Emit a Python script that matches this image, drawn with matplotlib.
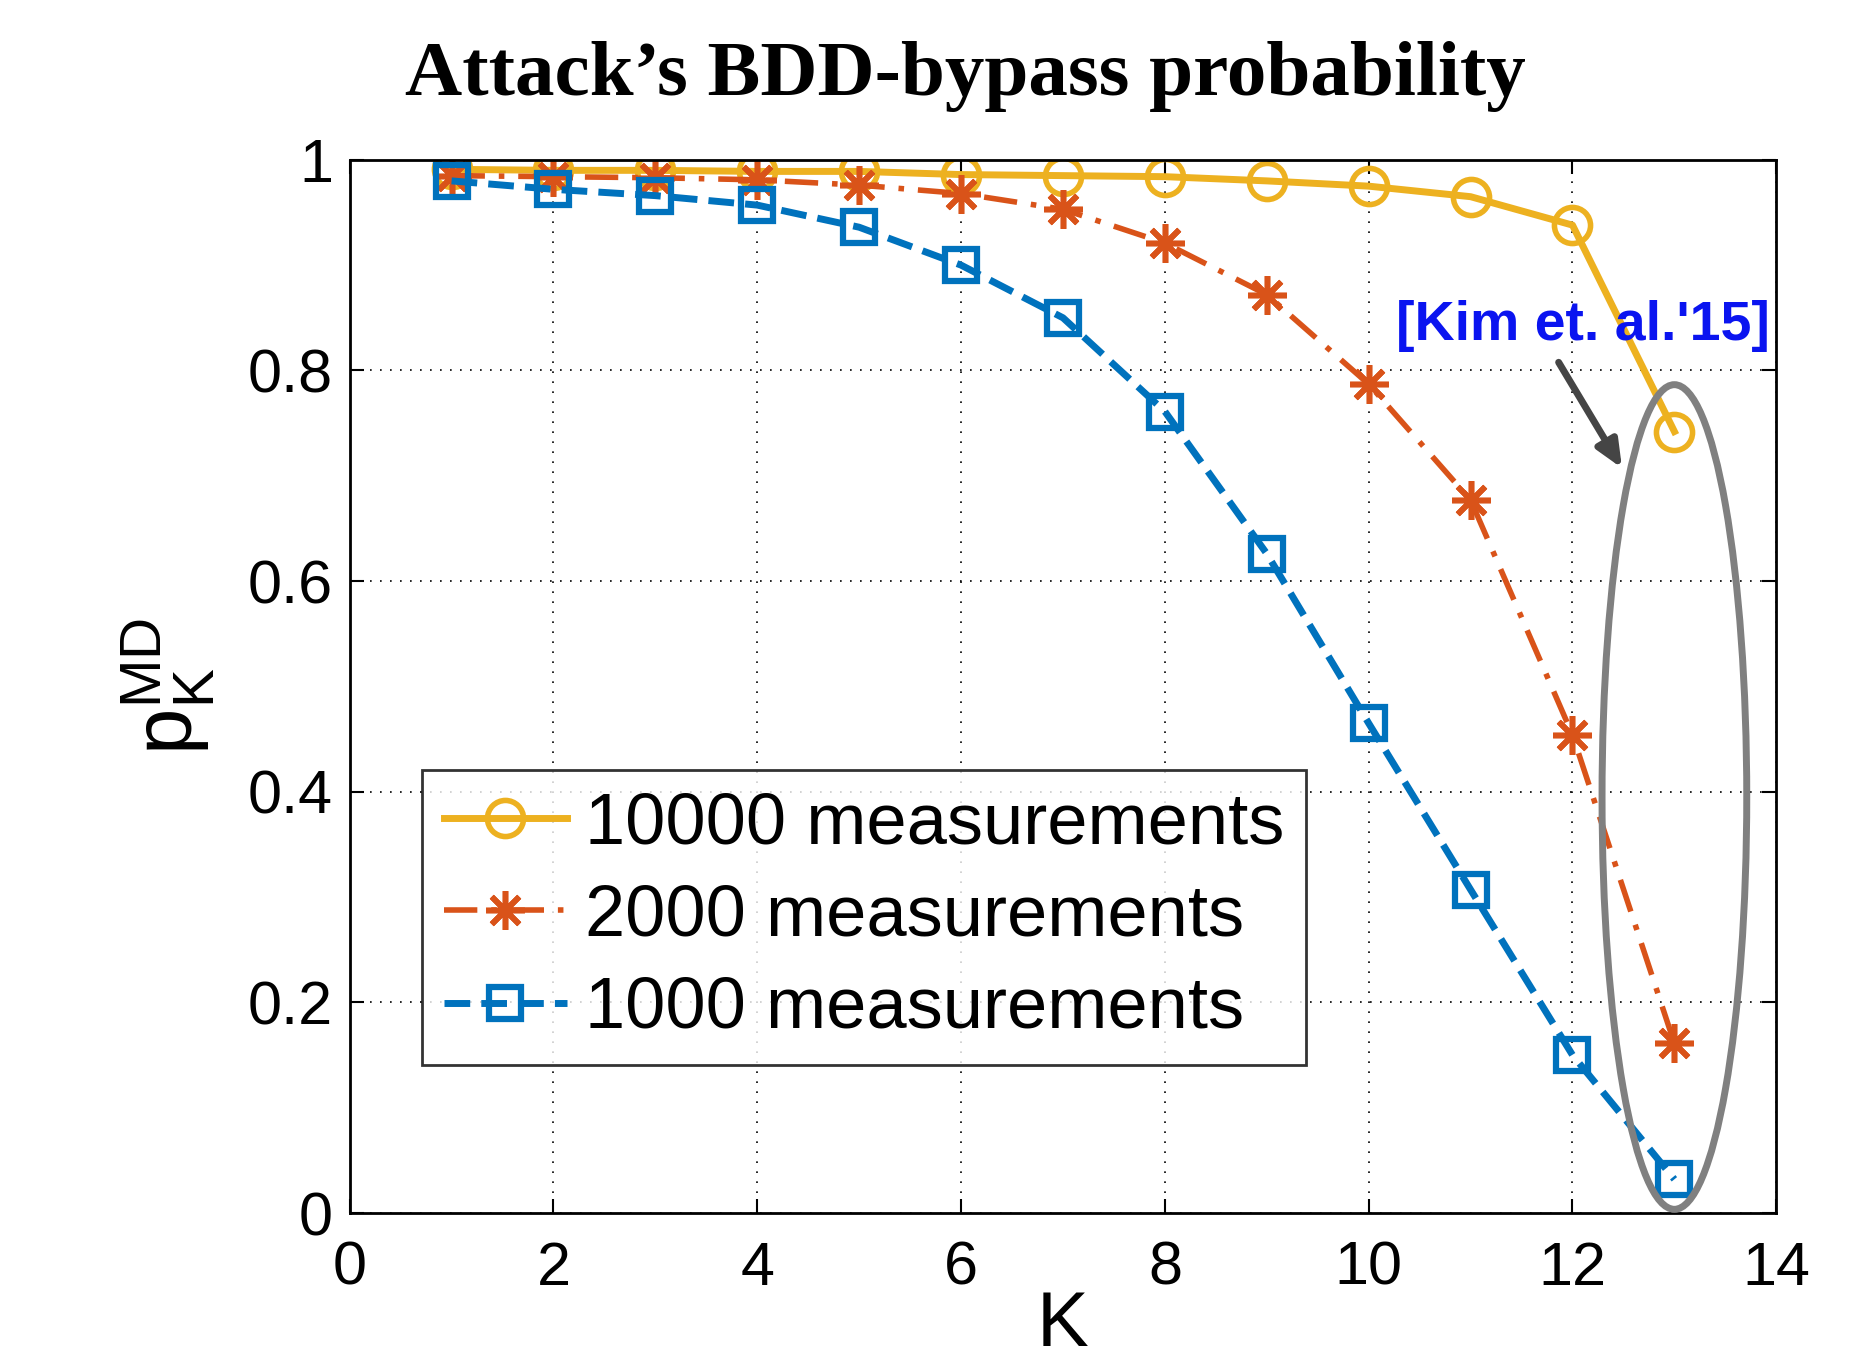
import numpy as np
import matplotlib
matplotlib.use("Agg")
import matplotlib.pyplot as plt
from matplotlib.patches import Ellipse

K = [1, 2, 3, 4, 5, 6, 7, 8, 9, 10, 11, 12, 13]
p_10000 = [0.991, 0.990, 0.990, 0.989, 0.989, 0.986, 0.985, 0.984, 0.980, 0.975, 0.965, 0.938, 0.742]
p_2000 = [0.985, 0.984, 0.983, 0.981, 0.976, 0.968, 0.953, 0.921, 0.872, 0.787, 0.677, 0.454, 0.161]
p_1000 = [0.980, 0.972, 0.966, 0.957, 0.936, 0.900, 0.850, 0.761, 0.626, 0.465, 0.307, 0.150, 0.032]
labels = ["10000 measurements", "2000 measurements", "1000 measurements"]

plt.rcParams['font.family'] = ['Liberation Sans', 'DejaVu Sans']
plt.rcParams['mathtext.fontset'] = 'custom'
plt.rcParams['mathtext.rm'] = 'Liberation Sans'
plt.rcParams['mathtext.it'] = 'Liberation Sans'
plt.rcParams['mathtext.sf'] = 'Liberation Sans'

yellow = '#EDB120'
red = '#D95319'
blue = '#0072BD'

fig = plt.figure(figsize=(18.6, 13.66), dpi=100)
ax = fig.add_axes([0.188, 0.112, 0.767, 0.771])

ax.plot(K, p_10000, '-', color=yellow, lw=5, marker='o', ms=26, mfc='none', mew=4, label=labels[0])
ax.plot(K, p_2000, color=red, lw=4, ls=(0, (6, 2.5, 1, 2.5)), marker=(8, 2, 0), ms=28,
        mfc=red, mec=red, mew=4, label=labels[1])
ax.plot(K, p_1000, '--', color=blue, lw=5, marker='s', ms=23, mfc='none', mew=4.5, label=labels[2])

ax.set_xlim(0, 14)
ax.set_ylim(0, 1)
ax.set_xticks(np.arange(0, 15, 2))
ax.set_yticks([0, 0.2, 0.4, 0.6, 0.8, 1])
ax.set_yticklabels(['0', '0.2', '0.4', '0.6', '0.8', '1'])
ax.tick_params(direction='in', length=10, width=1.5, labelsize=44, top=True, right=True, pad=12)
ax.tick_params(axis='x', pad=20)
ax.grid(True, ls=(0, (1, 5)), color='black', lw=1.2)
for s in ax.spines.values():
    s.set_linewidth(2)

ax.set_xlabel('K', fontsize=56, labelpad=-6)
ax.set_ylabel(r'$\mathrm{p}_\mathrm{K}^\mathrm{MD}$', fontsize=60, labelpad=22)

fig.suptitle("Attack\u2019s BDD-bypass probability", family='Liberation Serif', weight='bold',
             fontsize=57, x=0.519, y=0.97)

# highlight ellipse and annotation
ax.add_patch(Ellipse((13.0, 0.395), 1.42, 0.783, fill=False, edgecolor='#808080', lw=5, zorder=5))
ax.annotate('', xy=(12.5, 0.705), xytext=(11.85, 0.81),
            arrowprops=dict(arrowstyle='-|>,head_length=1.6,head_width=0.7', color='#454545', lw=5))
ax.text(12.1, 0.842, "[Kim et. al.'15]", color='#0A14F0', weight='bold', fontsize=40,
        ha='center', va='center')

leg = ax.legend(loc='lower left', bbox_to_anchor=(0.051, 0.141), borderaxespad=0,
                fontsize=52, frameon=True, fancybox=False, edgecolor='black',
                handlelength=1.7, handletextpad=0.25, labelspacing=0.35, borderpad=0.3)
leg.get_frame().set_linewidth(2)

fig.savefig('out.png', dpi=100, facecolor='white')
